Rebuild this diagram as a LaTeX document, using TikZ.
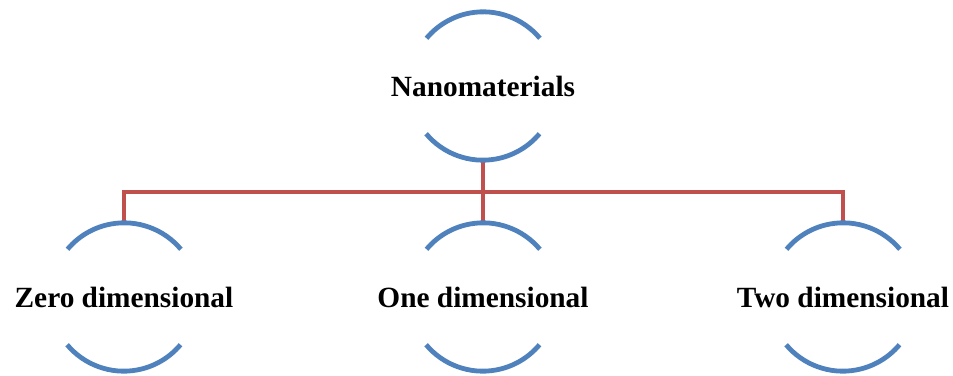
\documentclass[tikz,border=0pt]{standalone}
\usepackage{fontspec}
\setmainfont{Liberation Serif}
\usepackage{xcolor}
\usetikzlibrary{positioning, calc}

\definecolor{arcblue}{HTML}{4F81BD}
\definecolor{linkred}{HTML}{C0504D}

\begin{document}
\begin{tikzpicture}[
  x=0.75pt, y=0.75pt,
  item/.style={circle, minimum size=111pt, inner sep=0pt, label distance=0pt,
    label={[font=\fontsize{22}{26}\selectfont\bfseries]center:#1}},
  arcline/.style={draw=arcblue, line width=3.6pt},
  link/.style={draw=linkred, line width=3.6pt}
]
  \useasboundingbox (0,0) rectangle (953,375);

  \node[item=Nanomaterials]   (nano) at (483,289) {};
  \node[item=Zero dimensional] (zero) at (124,78) {};
  \node[item=One dimensional]  (one)  at (483,78) {};
  \node[item=Two dimensional]  (two)  at (843,78) {};
  \coordinate (bus) at (483,183);

  \draw[link] (nano.south) -- (one.north);
  \draw[link] (zero.north) |- (bus) -| (two.north);

  % arcs round each item
  \foreach \n in {nano, zero, one, two} {
    \draw[arcline] (\n.40) arc[start angle=40, end angle=140, radius=55.5pt];
    \draw[arcline] (\n.220) arc[start angle=220, end angle=320, radius=55.5pt];
  }
\end{tikzpicture}
\end{document}
